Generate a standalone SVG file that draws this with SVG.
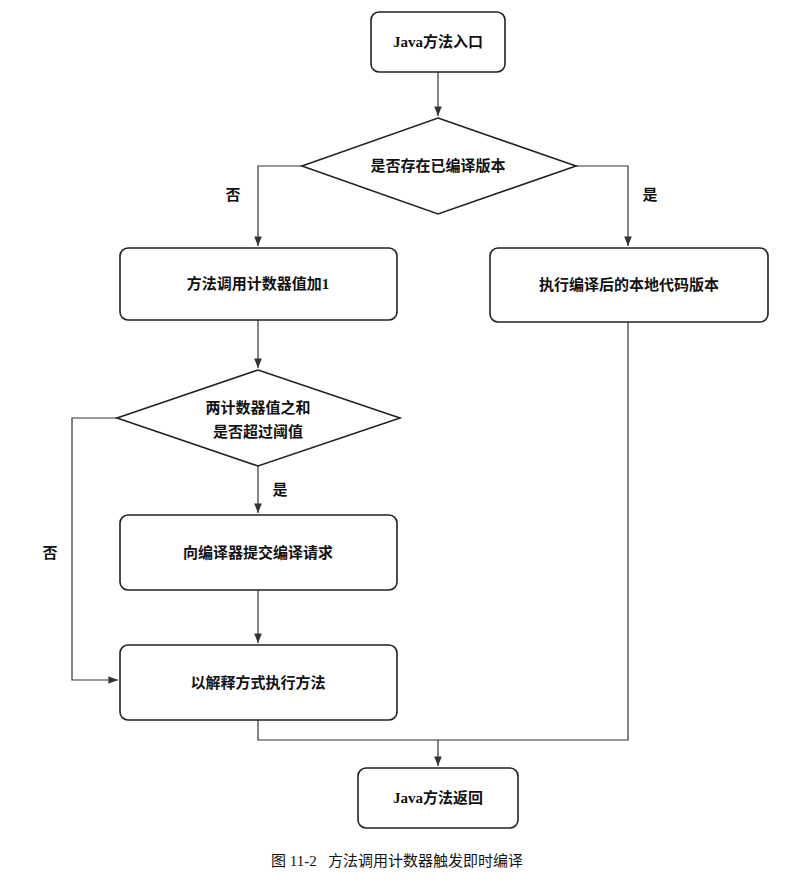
<svg xmlns="http://www.w3.org/2000/svg" width="794" height="883" viewBox="0 0 794 883">
<style>
.n{fill:#fff;stroke:#222;stroke-width:1.6}
.t{font-family:"Liberation Serif","Noto Sans CJK SC",serif;font-size:15px;font-weight:bold;fill:#111;text-anchor:middle}
.c{fill:none;stroke:#333;stroke-width:1.2}
</style>
<defs><marker id="a" viewBox="0 0 10 10" refX="10" refY="5" markerWidth="8" markerHeight="8" orient="auto"><path d="M0,1 L10,5 L0,9 z" fill="#333"/></marker></defs>
<rect width="794" height="883" fill="#fff"/>
<g id="connectors">
<path class="c" d="M438,72 V116" marker-end="url(#a)"/>
<path class="c" d="M302,166 H258 V246" marker-end="url(#a)"/>
<path class="c" d="M576,166 H628 V246" marker-end="url(#a)"/>
<path class="c" d="M258,320 V368" marker-end="url(#a)"/>
<path class="c" d="M258,466 V513" marker-end="url(#a)"/>
<path class="c" d="M258,590 V643" marker-end="url(#a)"/>
<path class="c" d="M117,418 H72 V680 H118" marker-end="url(#a)"/>
<path class="c" d="M258,720 V740 H628 V322"/>
<path class="c" d="M438,740 V766" marker-end="url(#a)"/>
<text class="t" x="233" y="200">否</text>
<text class="t" x="650" y="200">是</text>
<text class="t" x="280" y="495">是</text>
<text class="t" x="50" y="558">否</text>
</g>
<g id="start"><rect class="n" x="371" y="12" width="134" height="60" rx="8"/><text class="t" x="438" y="47">Java方法入口</text></g>
<g id="d1"><polygon class="n" points="438,118 576,166 438,214 302,166"/><text class="t" x="438" y="171">是否存在已编译版本</text></g>
<g id="inc"><rect class="n" x="120" y="248" width="277" height="72" rx="8"/><text class="t" x="258" y="289">方法调用计数器值加1</text></g>
<g id="native"><rect class="n" x="490" y="248" width="278" height="74" rx="8"/><text class="t" x="629" y="290">执行编译后的本地代码版本</text></g>
<g id="d2"><polygon class="n" points="258,370 400,418 258,466 117,418"/><text class="t" x="258" y="413">两计数器值之和</text><text class="t" x="258" y="437">是否超过阈值</text></g>
<g id="submit"><rect class="n" x="120" y="515" width="277" height="75" rx="8"/><text class="t" x="258" y="558">向编译器提交编译请求</text></g>
<g id="interp"><rect class="n" x="120" y="645" width="277" height="75" rx="8"/><text class="t" x="258" y="688">以解释方式执行方法</text></g>
<g id="end"><rect class="n" x="358" y="768" width="160" height="60" rx="8"/><text class="t" x="438" y="803">Java方法返回</text></g>
<text x="397" y="866" style="font-family:'Liberation Serif','Noto Sans CJK SC',serif;font-size:15px;fill:#111;text-anchor:middle" xml:space="preserve">图 11-2   方法调用计数器触发即时编译</text>
</svg>
